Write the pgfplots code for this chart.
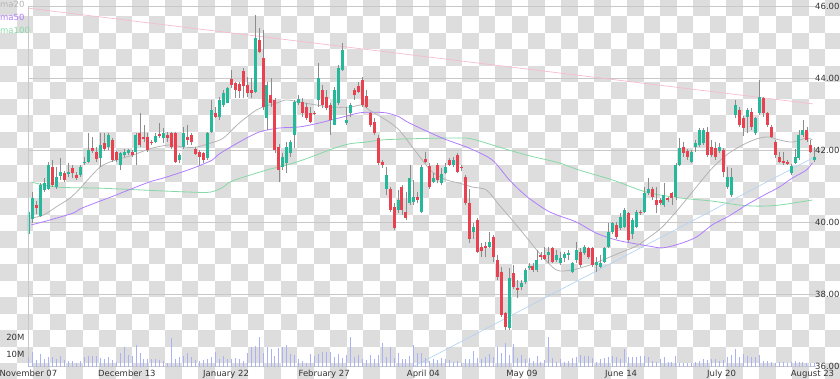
\documentclass[border=0pt]{standalone}
\usepackage{pgfplots}
\pgfplotsset{compat=1.18}
\usepackage{pgfplotstable}
\usepackage{fontspec}
\setmainfont{DejaVu Sans}
\definecolor{upc}{HTML}{26B89A}
\definecolor{dnc}{HTML}{E8414F}
\definecolor{wickc}{HTML}{8C8C8C}
\definecolor{ma20c}{HTML}{B4B4B4}
\definecolor{ma50c}{HTML}{B07CFF}
\definecolor{ma100c}{HTML}{86D9A6}
\definecolor{pinkc}{HTML}{F6BCCB}
\definecolor{bluec}{HTML}{B4D4F4}
\definecolor{volc}{HTML}{AAB2F4}
\definecolor{gridc}{HTML}{C8C8C8}
\definecolor{chk}{HTML}{DDDDDD}
\definecolor{txt}{HTML}{333333}

\pgfplotstableread{
i o h l c v
0 39.70 40.40 39.45 40.30 8.0
1 40.10 40.85 40.00 40.70 11.0
2 40.48 40.60 40.25 40.42 6.5
3 40.20 41.10 40.15 41.05 10.0
4 40.92 41.25 40.85 41.10 6.9
5 40.95 41.70 40.90 41.60 8.0
6 41.55 41.75 41.00 41.05 8.4
7 41.00 41.55 40.95 41.28 6.9
8 41.30 41.80 41.20 41.40 8.8
9 41.37 41.45 41.14 41.18 6.5
10 41.35 41.65 41.28 41.42 6.1
11 41.51 41.60 41.23 41.39 5.7
12 41.32 41.40 41.18 41.23 4.5
13 41.33 41.60 41.28 41.56 6.1
14 41.65 41.83 41.60 41.70 8.0
15 41.70 42.50 41.65 42.02 8.8
16 42.07 42.39 41.93 42.00 8.8
17 41.97 42.10 41.70 41.76 8.8
18 41.79 42.48 41.55 42.16 7.5
19 42.22 42.48 42.00 42.06 6.9
20 42.11 42.48 42.02 42.44 8.0
21 42.30 42.34 41.70 41.74 6.5
22 41.97 42.00 41.70 41.74 5.5
23 41.60 41.97 41.46 41.93 10.4
24 41.88 42.06 41.83 41.97 14.3
25 41.93 42.06 41.88 42.02 9.4
26 41.97 42.02 41.83 41.88 8.8
27 41.97 42.50 41.60 42.43 15.3
28 42.48 43.04 42.11 42.16 10.8
29 42.39 42.72 42.25 42.32 6.9
30 42.39 42.48 41.97 42.02 6.9
31 42.25 42.30 42.16 42.20 6.9
32 42.25 42.48 42.22 42.41 6.9
33 42.45 42.76 42.35 42.41 6.5
34 42.34 42.62 42.20 42.48 5.7
35 42.43 42.53 42.25 42.34 4.9
36 42.48 42.53 42.06 42.11 19.2
37 42.48 42.53 41.65 41.70 6.9
38 41.74 41.93 41.65 41.88 8.0
39 42.11 42.67 42.06 42.48 8.8
40 42.39 42.72 42.16 42.30 10.4
41 42.43 42.48 42.16 42.25 8.0
42 42.04 42.11 41.88 41.91 6.5
43 41.97 42.02 41.60 41.83 6.1
44 41.93 41.97 41.65 41.74 6.5
45 41.79 42.53 41.74 42.48 6.9
46 42.53 43.40 42.48 43.13 8.0
47 43.04 43.20 42.90 42.94 11.2
48 42.94 43.50 42.85 43.41 6.9
49 43.27 43.69 43.22 43.59 8.8
50 43.33 43.78 43.32 43.73 6.9
51 43.98 44.24 43.73 43.82 6.9
52 43.87 43.92 43.45 43.69 7.5
53 43.85 43.92 43.45 43.67 6.9
54 44.22 44.29 43.45 43.80 6.1
55 43.82 44.06 43.48 43.59 10.4
56 43.69 44.01 43.45 43.59 14.3
57 43.64 45.77 43.59 45.12 14.7
58 45.07 45.40 44.70 44.75 19.8
59 44.57 45.35 43.13 43.22 10.8
60 42.90 43.92 42.57 43.82 13.9
61 43.55 44.01 43.22 43.32 12.7
62 43.41 43.45 41.93 42.02 8.8
63 42.11 42.20 41.14 41.46 13.3
64 41.56 41.93 41.46 41.83 14.3
65 41.65 42.25 41.37 42.11 15.3
66 41.93 42.30 41.83 42.25 10.0
67 42.44 43.41 42.07 43.36 9.4
68 43.32 43.55 43.27 43.43 6.9
69 43.36 43.45 42.94 43.04 6.1
70 43.22 43.32 42.85 42.90 4.9
71 43.04 43.22 42.76 42.81 10.0
72 43.06 43.10 42.98 43.02 8.8
73 43.41 44.43 43.22 44.01 10.0
74 43.69 43.82 43.18 43.27 11.4
75 43.50 43.69 43.13 43.18 11.4
76 43.27 43.32 42.44 42.85 11.4
77 42.71 43.78 42.71 43.69 8.0
78 43.32 44.38 43.27 44.29 10.0
79 44.24 44.98 44.20 44.80 7.5
80 42.76 43.22 42.71 42.85 9.4
81 43.04 43.32 42.94 43.27 20.2
82 43.69 43.73 43.41 43.55 8.0
83 43.80 43.92 43.59 43.64 9.4
84 43.96 44.06 43.22 43.27 6.9
85 43.52 43.69 43.18 43.22 6.5
86 43.04 43.08 42.67 42.71 9.4
87 42.81 42.90 42.44 42.48 6.9
88 42.34 42.44 41.60 41.65 9.4
89 41.70 41.74 41.51 41.60 16.7
90 40.95 41.56 40.77 41.33 8.4
91 40.95 41.00 40.30 40.35 14.3
92 40.45 40.54 39.80 39.84 7.5
93 40.35 40.91 40.26 40.63 10.8
94 41.00 41.05 40.21 40.35 6.9
95 40.31 40.86 40.08 40.12 6.9
96 40.54 41.60 40.49 41.23 8.8
97 40.58 41.19 40.49 40.72 15.3
98 40.72 40.86 40.54 40.63 10.4
99 40.31 41.60 40.26 41.56 10.4
100 41.76 41.97 41.65 41.69 7.5
101 41.57 41.65 40.95 41.00 6.1
102 41.14 41.37 41.09 41.23 6.9
103 41.60 41.65 41.09 41.19 6.5
104 41.09 41.51 41.05 41.35 7.5
105 41.39 41.65 41.35 41.54 6.9
106 41.74 41.79 41.57 41.60 6.5
107 41.60 41.83 41.56 41.74 5.5
108 41.88 41.93 41.37 41.42 6.1
109 41.56 41.60 41.45 41.51 4.9
110 41.28 41.33 40.49 40.54 6.9
111 40.56 40.95 39.45 39.55 6.9
112 39.75 39.98 39.56 39.89 12.0
113 40.07 40.12 39.15 39.20 7.5
114 39.33 39.43 39.06 39.22 6.9
115 39.35 39.47 39.06 39.29 8.0
116 39.33 39.75 39.29 39.47 10.0
117 39.61 39.66 38.92 39.06 8.0
118 38.96 39.10 38.41 38.50 14.3
119 38.64 38.78 37.39 37.44 10.4
120 37.48 37.52 37.02 37.11 16.7
121 37.07 38.73 37.02 38.46 9.4
122 38.59 38.82 38.17 38.22 15.9
123 38.20 38.40 37.90 38.13 7.5
124 38.22 38.40 38.13 38.33 9.4
125 38.36 38.73 38.31 38.69 6.9
126 38.73 38.87 38.69 38.80 7.5
127 38.80 38.87 38.64 38.69 6.1
128 38.69 39.24 38.64 38.96 8.8
129 39.10 39.19 38.96 39.06 5.5
130 39.10 39.33 38.96 39.00 6.5
131 39.10 39.33 38.87 39.19 19.8
132 39.29 39.33 38.87 38.92 7.5
133 38.96 39.24 38.92 39.10 5.5
134 38.87 39.19 38.82 39.01 6.9
135 39.01 39.19 38.92 39.13 5.5
136 39.10 39.24 38.96 39.15 6.1
137 38.64 38.92 38.59 38.87 7.5
138 38.96 39.47 38.87 39.24 8.0
139 39.19 39.29 38.78 38.83 9.4
140 39.15 39.38 39.10 39.33 8.8
141 39.29 39.33 39.00 39.06 8.8
142 39.29 39.33 38.78 38.83 7.5
143 38.83 39.06 38.64 38.92 5.5
144 38.78 39.10 38.73 38.87 6.9
145 38.92 39.33 38.87 39.29 7.5
146 39.33 39.98 39.29 39.75 8.4
147 39.75 40.03 39.70 39.98 8.8
148 39.94 40.03 39.56 39.61 8.4
149 39.84 40.26 39.80 40.17 6.9
150 39.89 40.40 39.84 40.35 12.7
151 40.26 40.31 39.47 39.52 8.4
152 39.70 40.12 39.56 40.08 8.4
153 39.89 40.35 39.84 40.31 8.4
154 40.31 40.35 40.21 40.26 8.8
155 40.31 41.00 40.26 40.82 8.8
156 40.82 41.23 40.77 40.95 8.4
157 40.95 41.00 40.63 40.72 6.1
158 40.63 41.00 40.26 40.49 5.5
159 40.63 40.70 40.50 40.56 6.9
160 40.49 41.09 40.44 40.77 8.0
161 40.68 40.72 40.58 40.63 5.5
162 40.82 40.86 40.49 40.68 5.5
163 40.72 41.65 40.63 41.60 8.8
164 41.60 42.34 41.57 42.07 4.5
165 42.11 42.25 41.83 41.93 4.9
166 41.99 42.06 41.74 41.83 4.5
167 41.69 42.02 41.65 41.97 4.9
168 42.11 42.30 41.97 42.20 5.5
169 42.16 42.62 42.11 42.57 6.1
170 42.20 42.62 42.16 42.57 6.9
171 42.53 42.67 41.83 41.88 6.5
172 42.11 42.30 41.83 41.88 6.9
173 42.07 42.25 41.74 41.83 6.9
174 41.98 42.20 41.93 42.11 6.1
175 42.02 42.07 41.28 41.42 6.5
176 41.00 41.56 40.95 41.28 8.0
177 40.77 41.51 40.72 41.28 9.4
178 42.99 43.41 42.90 43.27 12.7
179 43.13 43.22 42.67 42.71 8.4
180 42.90 42.95 42.42 42.62 10.0
181 42.94 43.18 42.48 43.13 8.8
182 43.08 43.18 42.57 42.67 8.0
183 42.48 42.94 42.44 42.90 8.4
184 43.04 43.96 43.00 43.50 9.4
185 43.45 43.50 42.94 43.04 6.1
186 43.04 43.08 42.67 42.71 6.1
187 42.67 42.71 42.34 42.39 5.5
188 42.25 42.30 41.79 41.88 4.9
189 41.83 41.97 41.65 41.70 5.5
190 41.72 41.97 41.60 41.65 5.5
191 41.69 41.74 41.60 41.63 4.9
192 41.37 41.63 41.33 41.57 5.5
193 41.65 42.06 41.63 41.83 6.1
194 41.79 42.57 41.74 42.44 5.5
195 42.44 42.85 42.39 42.57 5.5
196 42.57 42.67 42.25 42.30 4.9
197 42.16 42.30 41.93 41.97 4.9
198 41.74 42.11 41.69 41.83 4.5
}\candles

\begin{document}
\begin{tikzpicture}
\path[use as bounding box] (0,0) rectangle (840pt,378pt);
\foreach \c in {0,...,50}{\foreach \r in {0,...,22}{%
  \pgfmathtruncatemacro{\pp}{mod(\c+\r,2)}%
  \ifnum\pp=0 \fill[chk] (\c*16.5pt, 378pt-\r*16.5pt) rectangle ++(16.5pt,-16.5pt);\fi
}}
\begin{axis}[
  at={(28pt,11.3pt)}, anchor=south west,
  scale only axis, width=788pt, height=360pt,
  xmin=-0.2, xmax=198.29, ymin=36, ymax=46,
  axis line style={draw=none},
  xtick={-0.1,24.7,49.7,74.4,99.4,124.2,149.2,174.5,197.4},
  xticklabels={November 07,December 13,January 22,February 27,April 04,May 09,June 14,July 20,August 23},
  ytick={36,38,40,42,44,46},
  yticklabels={36.00,38.00,40.00,42.00,44.00,46.00},
  yticklabel pos=right,
  major tick length=0pt,
  ymajorgrids, major grid style={gridc, line width=0.6pt},
  tick label style={font=\fontsize{8.5}{10}\selectfont, text=txt},
  yticklabel style={anchor=west, inner sep=0pt, xshift=-1pt},
]
\addplot[pinkc, line width=0.7pt] coordinates {(-0.2,45.96) (197.5,43.30)};
\addplot[bluec, line width=0.7pt] coordinates {(96.8,36.0) (197.5,41.80)};
\addplot[ma100c, line width=0.8pt, smooth] coordinates {(0.63,41.13)(6.93,40.99)(17.76,40.96)(28.09,40.91)(40.68,40.85)(45.72,40.85)(48.99,40.99)(51.26,41.16)(59.82,41.46)(63.85,41.57)(68.14,41.71)(72.42,41.88)(76.45,42.05)(80.73,42.19)(85.01,42.24)(89.04,42.30)(95.84,42.33)(104.16,42.35)(110.20,42.35)(113.48,42.27)(118.51,42.10)(125.31,41.88)(133.62,41.66)(138.66,41.46)(146.98,41.19)(155.54,40.85)(163.85,40.69)(172.17,40.60)(178.97,40.49)(184.01,40.46)(189.04,40.49)(197.36,40.63)};
\addplot[ma50c, line width=0.8pt, smooth] coordinates {(0.63,39.94)(5.16,40.07)(11.21,40.27)(13.48,40.41)(22.04,40.77)(23.80,40.85)(30.35,41.13)(33.88,41.24)(38.66,41.41)(42.19,41.55)(46.22,41.74)(47.98,41.91)(53.02,42.24)(58.06,42.52)(63.10,42.63)(68.14,42.66)(73.17,42.77)(78.21,42.91)(83.25,43.05)(86.52,43.07)(90.05,43.05)(93.32,42.94)(95.84,42.77)(104.16,42.35)(110.96,42.07)(116.75,41.74)(121.03,41.19)(125.31,40.74)(130.35,40.35)(133.62,40.19)(137.91,40.02)(142.95,39.71)(147.98,39.52)(153.02,39.41)(156.30,39.35)(159.57,39.30)(163.85,39.41)(168.14,39.60)(172.17,39.94)(176.45,40.19)(180.73,40.49)(185.77,40.80)(189.04,40.99)(192.32,41.24)(195.84,41.46)(197.36,41.66)};
\addplot[ma20c, line width=0.8pt, smooth] coordinates {(0.63,40.13)(3.65,40.21)(6.93,40.44)(10.45,40.69)(12.97,40.96)(15.49,41.27)(18.01,41.55)(20.53,41.69)(23.80,41.80)(26.32,41.88)(29.60,42.02)(32.12,42.10)(35.64,42.16)(38.92,42.10)(42.19,42.10)(45.72,42.21)(48.99,42.35)(53.02,42.77)(57.30,43.13)(58.82,43.21)(62.34,43.32)(64.86,43.41)(68.14,43.35)(72.42,43.27)(76.45,43.21)(80.73,43.21)(84.01,43.27)(85.77,43.13)(90.05,42.85)(93.32,42.57)(96.60,42.10)(99.12,41.74)(101.64,41.41)(105.16,41.19)(108.44,41.10)(111.71,40.99)(115.24,40.91)(118.51,40.49)(121.79,40.07)(125.31,39.60)(128.59,39.16)(132.87,38.69)(136.90,38.69)(141.18,38.82)(144.46,38.96)(149.50,39.19)(153.02,39.35)(156.30,39.60)(159.57,39.88)(163.85,40.41)(168.14,40.99)(172.17,41.52)(176.45,41.94)(180.73,42.21)(184.01,42.35)(186.52,42.38)(189.04,42.30)(192.32,42.24)(195.84,42.35)(197.36,42.30)};
% wicks
\addplot[wickc, line width=0.8pt, quiver={u=0, v=\thisrow{h}-\thisrow{l}}] table[x=i, y=l] {\candles};
% bodies
\addplot[upc, line width=3pt, quiver={u=0, v=\thisrow{c}-\thisrow{o}},
  restrict expr to domain={\thisrow{c}-\thisrow{o}}{0:100}] table[x=i, y=o] {\candles};
\addplot[dnc, line width=3pt, quiver={u=0, v=\thisrow{c}-\thisrow{o}},
  restrict expr to domain={\thisrow{c}-\thisrow{o}}{-100:-0.0001}] table[x=i, y=o] {\candles};
\end{axis}
\begin{axis}[
  at={(28pt,11.3pt)}, anchor=south west,
  scale only axis, width=788pt, height=360pt,
  xmin=-0.2, xmax=198.29, ymin=2.53, ymax=214.3,
  axis x line=none, axis y line*=left,
  y axis line style={gridc, line width=0.6pt},
  ytick={10,20}, yticklabels={10M,20M},
  major tick length=0pt,
  tick label style={font=\fontsize{8.5}{10}\selectfont, text=txt},
]
\addplot[ycomb, volc, line width=0.9pt] table[x=i, y=v] {\candles};
\end{axis}
\node[anchor=west, inner sep=0pt, font=\fontsize{8.5}{10}\selectfont, text=ma20c] at (0pt,374pt) {ma20};
\node[anchor=west, inner sep=0pt, font=\fontsize{8.5}{10}\selectfont, text=ma50c] at (0pt,361pt) {ma50};
\node[anchor=west, inner sep=0pt, font=\fontsize{8.5}{10}\selectfont, text=ma100c] at (0pt,348pt) {ma100};
\end{tikzpicture}
\end{document}
